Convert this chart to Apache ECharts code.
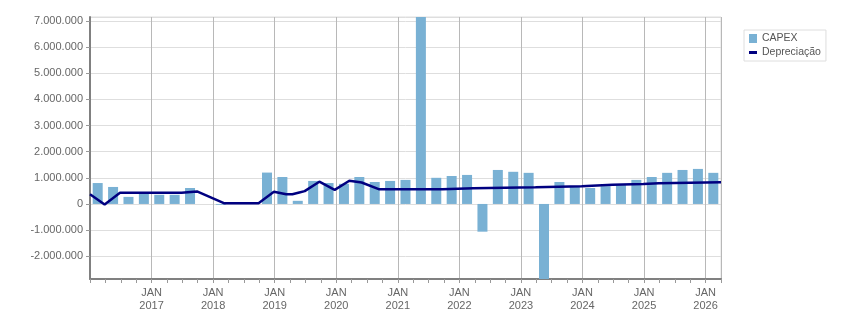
<!DOCTYPE html>
<html>
<head>
<meta charset="utf-8">
<title>CAPEX x Depreciação</title>
<script src="https://cdn.jsdelivr.net/npm/echarts@6/dist/echarts.min.js"></script>
<style>
html, body { margin: 0; padding: 0; background: #fff; }
#main { width: 851px; height: 313px; }
</style>
</head>
<body>
<div id="main"></div>
<script>
// trimestres: 1T2016 ... 1T2026
var quarters = [];
for (var y = 2016; y <= 2026; y++) {
	for (var t = 1; t <= 4; t++) {
		if (y == 2026 && t > 1) break;
		quarters.push(y + 'T' + t);
	}
}

// CAPEX por trimestre
var capex = [800000, 650000, 270000, 430000, 350000, 350000, 610000, 0,
	-30000, 0, 0, 1200000, 1030000, 120000, 880000, 800000,
	770000, 1030000, 840000, 880000, 920000, 7150000, 1000000, 1070000,
	1110000, -1060000, 1300000, 1230000, 1190000, -2870000, 840000, 650000,
	610000, 680000, 720000, 920000, 1030000, 1190000, 1300000, 1340000,
	1190000];

// Depreciação: posição (em trimestres desde JAN 2016) e valor
var deprecPos = [0, 0.95, 1.95, 5.95, 6.05, 6.95, 8.7, 10.95, 11.95, 12.75,
	13.15, 13.6, 13.95, 14.9, 15.9, 16.85, 17.65, 18.8, 22.9, 23.0,
	24.9, 25.0, 28.95, 29.05, 31.95, 32.05, 33.95, 34.05, 35.95, 36.05,
	36.95, 37.05, 41];
var deprecValues = [370000, -20000, 430000, 430000, 480000, 480000, 30000, 30000, 470000, 370000,
	370000, 440000, 490000, 850000, 540000, 890000, 820000, 560000, 560000, 600000,
	600000, 640000, 640000, 680000, 680000, 730000, 730000, 760000, 760000, 790000,
	790000, 830000, 830000];

var barData = [];
for (var i = 0; i < capex.length; i++) {
	barData.push([i + 0.5, capex[i]]);
}
var lineData = [];
for (var k = 0; k < deprecPos.length; k++) {
	lineData.push([deprecPos[k], deprecValues[k]]);
}

function fmt(v) {
	var s = Math.abs(Math.round(v)).toString().replace(/\B(?=(\d{3})+(?!\d))/g, '.');
	return (v < 0 ? '-' : '') + s;
}

var font = 'Liberation Sans';
var myChart = echarts.init(document.getElementById('main'), null, { renderer: 'canvas' });

var option = {
	animation: false,
	grid: {
		left: 90, right: 130, top: 17, bottom: 34,
		show: true, borderColor: '#dedede', borderWidth: 1
	},
	legend: {
		orient: 'vertical',
		left: 744, top: 30,
		padding: [3, 5, 3, 5],
		itemWidth: 8, itemHeight: 9, itemGap: 3,
		borderColor: '#dedede', borderWidth: 1,
		textStyle: { fontFamily: font, fontSize: 10.5, color: '#555' },
		data: [
			{ name: 'CAPEX', icon: 'rect' },
			{ name: 'Depreciação', icon: 'path://M0,3H8V6H0Z' }
		]
	},
	xAxis: {
		type: 'value',
		min: 0, max: 41, interval: 4,
		axisLine: { onZero: false, lineStyle: { color: '#808080', width: 2 } },
		axisTick: { length: 4, lineStyle: { color: '#999' } },
		minorTick: { show: true, splitNumber: 4, length: 4, lineStyle: { color: '#999' } },
		splitLine: { show: true, lineStyle: { color: '#b8b8b8' } },
		axisLabel: {
			fontFamily: font, fontSize: 11, color: '#666', lineHeight: 13, margin: 7,
			formatter: function (v) {
				if (v <= 0 || v % 4 != 0) return '';
				return 'JAN\n' + (2016 + v / 4);
			}
		}
	},
	yAxis: {
		type: 'value',
		min: -2870000, max: 7150000, splitNumber: 10,
		axisLine: { show: true, onZero: false, lineStyle: { color: '#808080', width: 2 } },
		axisTick: { show: true, length: 4, lineStyle: { color: '#999' } },
		splitLine: { lineStyle: { color: '#dedede' } },
		axisLabel: {
			fontFamily: font, fontSize: 11, color: '#666', margin: 7,
			showMinLabel: false, showMaxLabel: false,
			formatter: function (v) {
				if (v % 1000000 != 0) return '';
				return fmt(v);
			}
		}
	},
	series: [{
		name: 'CAPEX',
		type: 'bar',
		barWidth: 10,
		itemStyle: { color: '#79b1d4' },
		data: barData
	}, {
		name: 'Depreciação',
		type: 'line',
		symbol: 'none',
		z: 3,
		lineStyle: { color: '#000080', width: 2.5 },
		itemStyle: { color: '#000080' },
		data: lineData
	}]
};

myChart.setOption(option);
</script>
</body>
</html>
